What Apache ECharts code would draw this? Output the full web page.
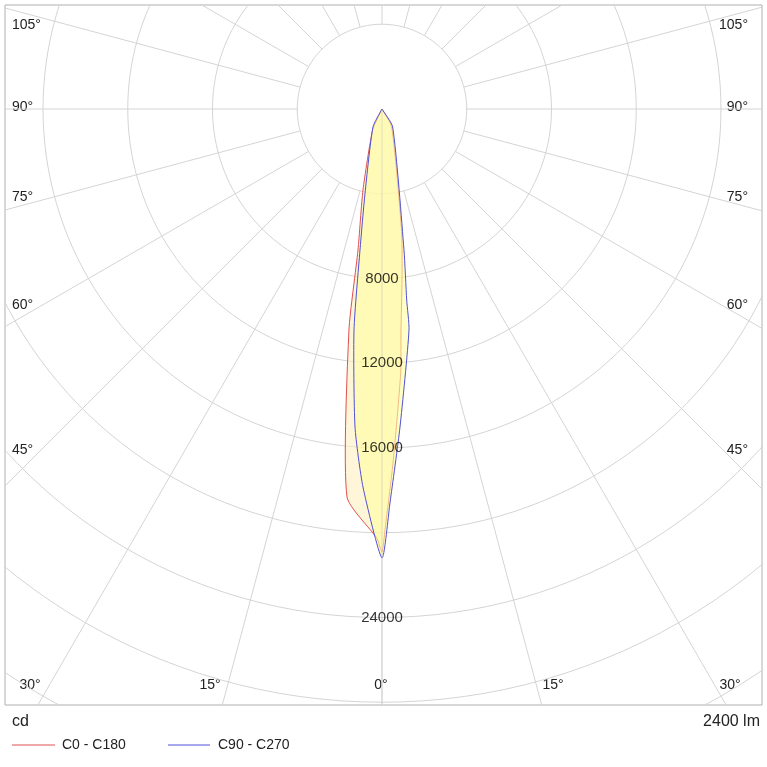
<!DOCTYPE html>
<html><head><meta charset="utf-8">
<script src="https://cdn.jsdelivr.net/npm/echarts@6/dist/echarts.min.js"></script>
<style>html,body{margin:0;padding:0;background:#fff}#c{width:767px;height:767px}</style>
</head><body><div id="c"></div>
<script>
// [angle deg (0 = down, negative = left), intensity cd]
const redCurve = [[-180,0],[-23.9,1085],[-13.2,3927],[-9.66,6750],[-8.5,10550],[-5.15,18390],[-0.71,20250],[0,20910],[0.41,19870],[1.78,16718],[4.05,12493],[4.91,10470],[6.67,8126],[9.03,5927],[28.3,965],[180,0]];
const blueCurve = [[-180,0],[-26.6,950],[-11.4,4045],[-8.87,6735],[-7.22,10515],[-4.85,15063],[-2.88,17864],[0,21190],[1.16,18600],[3.24,15033],[6.97,10508],[7.37,9090],[8.87,6735],[30.7,988],[180,0]];
const rings = [4000,8000,12000,16000,20000,24000,28000,32000,36000,40000];
const ringLabels = [8000,12000,16000,24000];
const spokes = [-180,-165,-150,-135,-120,-105,-90,-75,-60,-45,-30,-15,0,15,30,45,60,75,90,105,120,135,150,165];
const sideLabels = ['105°','90°','75°','60°','45°'];
const bottomLabels = ['30°','15°','0°','15°','30°'];
const unitText = 'cd';
const fluxText = '2400 lm';

function pt(a, r){const t=a*Math.PI/180;return [r*Math.sin(t), -r*Math.cos(t)];}
const series = [];
rings.forEach(r=>{
  const d=[];for(let a=0;a<=360;a+=2)d.push(pt(a,r));
  series.push({type:'line',data:d,symbol:'none',silent:true,clip:true,lineStyle:{color:'#d4d4d4',width:1},z:1});
});
spokes.forEach(a=>{
  series.push({type:'line',data:[pt(a,4000),pt(a,60000)],symbol:'none',silent:true,clip:true,lineStyle:{color:'#d4d4d4',width:1},z:1});
});
function poly(curve, fill, stroke, z){
  const pts = curve.map(p=>pt(p[0],p[1]));
  return {type:'custom',clip:true,z:z,silent:true,data:[0],
    renderItem:(params,api)=>({type:'polygon',shape:{points:pts.map(p=>api.coord(p)),smooth:0.2},
      style:{fill:fill,stroke:stroke,lineWidth:1}})};
}
series.push(poly(redCurve,'rgba(255,238,190,0.6)','#e05050',3));
series.push(poly(blueCurve,'rgba(255,255,160,0.6)','#5050d8',4));
series.push({type:'line',data:[pt(0,0),pt(0,60000)],symbol:'none',silent:true,clip:true,lineStyle:{color:'rgba(200,200,200,0.5)',width:1},z:5});
series.push({type:'scatter',symbolSize:0,z:6,silent:true,data:ringLabels.map(r=>({value:pt(0,r),label:{show:true,formatter:String(r)}})),
  label:{position:'inside',color:'#000',fontSize:15,fontFamily:'Liberation Sans'}});

const txt=(x,y,t,align)=>({type:'text',x:x,y:y,style:{text:t,fill:'#222',font:'14px "Liberation Sans"',textAlign:align||'left',textVerticalAlign:'middle'}});
const sideY=[25,107,197,305,450];
const graphic=[];
sideLabels.forEach((t,i)=>{graphic.push(txt(12,sideY[i],t,'left'));graphic.push(txt(748,sideY[i],t,'right'));});
const botX=[30,210,381,553,730];
bottomLabels.forEach((t,i)=>graphic.push(txt(botX[i],685,t,'center')));
graphic.push({type:'text',x:12,y:722,style:{text:unitText,fill:'#222',font:'16px "Liberation Sans"',textVerticalAlign:'middle'}});
graphic.push({type:'text',x:760,y:722,style:{text:fluxText,fill:'#222',font:'16px "Liberation Sans"',textAlign:'right',textVerticalAlign:'middle'}});
graphic.push({type:'line',shape:{x1:12,y1:745,x2:55,y2:745},style:{stroke:'#e05050',lineWidth:1}});
graphic.push(txt(62,745,'C0 - C180','left'));
graphic.push({type:'line',shape:{x1:168,y1:745,x2:210,y2:745},style:{stroke:'#5050d8',lineWidth:1}});
graphic.push(txt(218,745,'C90 - C270','left'));

const chart=echarts.init(document.getElementById('c'));
chart.setOption({animation:false,
  grid:{left:5,right:5,top:5,bottom:62,show:true,borderColor:'#b0b0b0',borderWidth:1,backgroundColor:'#fff'},
  xAxis:{type:'value',min:-17794,max:17936,show:false},
  yAxis:{type:'value',min:-28131,max:4909,show:false},
  series:series,graphic:graphic});
</script></body></html>
